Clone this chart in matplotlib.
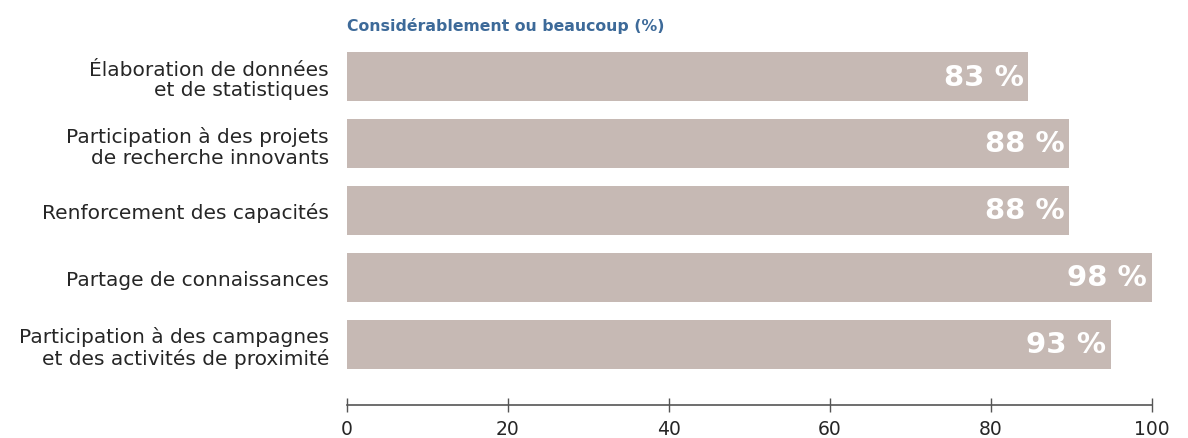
import matplotlib
matplotlib.use('Agg')
import matplotlib.pyplot as plt

# data
categories = ['Élaboration de données\net de statistiques',
              'Participation à des projets\nde recherche innovants',
              'Renforcement des capacités',
              'Partage de connaissances',
              'Participation à des campagnes\net des activités de proximité']
values = [83, 88, 88, 98, 93]
scale_ticks = [0, 20, 40, 60, 80, 100]
title = 'Considérablement ou beaucoup (%)'

bar_color = '#c6b9b4'
text_color = '#262626'
title_color = '#3d6a99'

plt.rcParams['font.family'] = ['DejaVu Sans']

W, H = 1188, 439
fig = plt.figure(figsize=(W / 100, H / 100), dpi=100)

# bars (scaled slightly wider than the scale axis, as in the original)
ax = fig.add_axes([347 / W, 1 - 379 / H, 821 / W, 335 / H])
y = list(range(len(categories)))
ax.barh(y, values, height=0.73, color=bar_color)
ax.set_xlim(0, 100)
ax.set_ylim(len(categories) - 0.5, -0.5)
ax.set_yticks(y)
ax.set_yticklabels(categories, fontsize=14.5, color=text_color, linespacing=1.12)
ax.tick_params(axis='y', length=0, pad=13)
ax.set_xticks([])
for s in ax.spines.values():
    s.set_visible(False)

for i, v in enumerate(values):
    ax.text(v - 0.6, i, f'{v} %', ha='right', va='center', color='white',
            fontsize=21, fontweight='bold')

fig.text(347 / W, 1 - 26 / H, title, color=title_color, fontsize=11.3,
         fontweight='bold', ha='left', va='center')

# scale axis
ax2 = fig.add_axes([347 / W, 1 - 406 / H, 805 / W, 0.001])
ax2.set_xlim(0, 100)
ax2.set_xticks(scale_ticks)
ax2.set_yticks([])
for s in ['top', 'left', 'right']:
    ax2.spines[s].set_visible(False)
ax2.spines['bottom'].set_color('#555555')
ax2.spines['bottom'].set_linewidth(1.2)
ax2.tick_params(axis='x', direction='inout', length=10, width=1, color='#555555',
                labelsize=13.5, labelcolor=text_color, pad=5)

fig.savefig('out.png', dpi=100)
